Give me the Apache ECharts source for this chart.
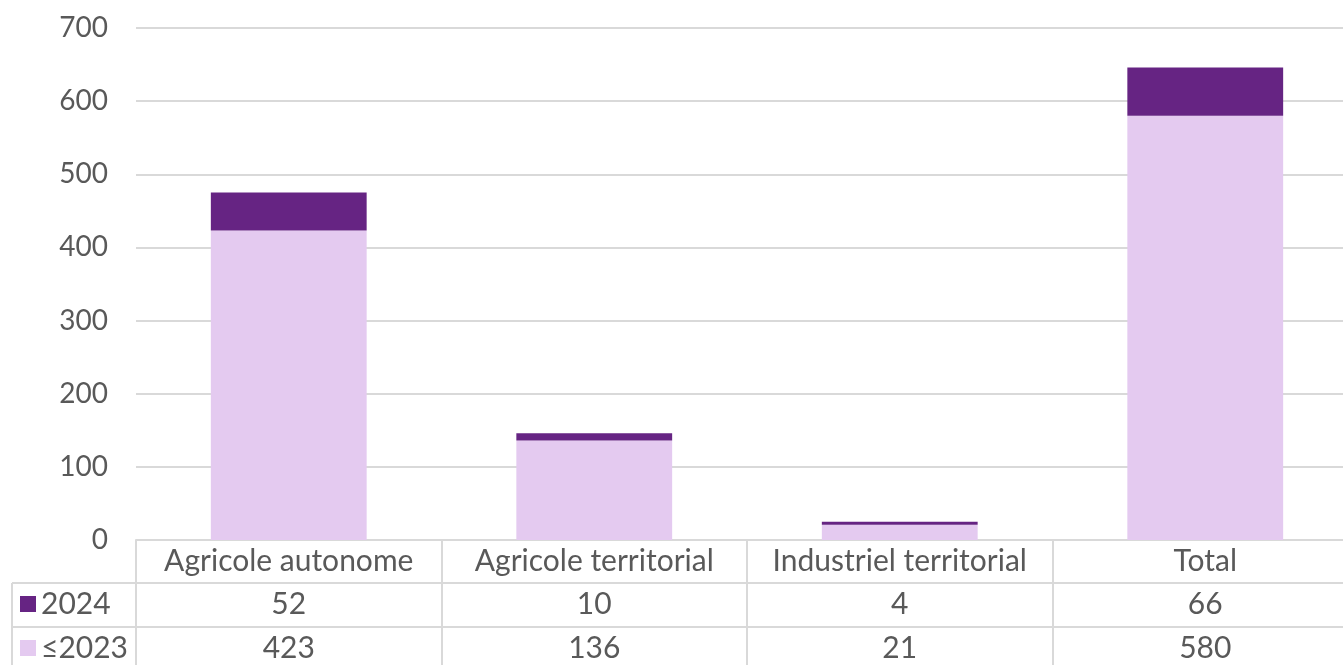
<!DOCTYPE html>
<html>
<head>
<meta charset="utf-8">
<script src="https://cdn.jsdelivr.net/npm/echarts@6/dist/echarts.min.js"></script>
<style>
  html, body { margin: 0; padding: 0; background: #fff; }
  #main { width: 1343px; height: 665px; }
</style>
</head>
<body>
<div id="main"></div>
<script>
// Data
var categories = ['Agricole autonome', 'Agricole territorial', 'Industriel territorial', 'Total'];
var values2024 = [52, 10, 4, 66];
var valuesUpTo2023 = [423, 136, 21, 580];
var yTicks = { min: 0, max: 700, interval: 100 };

var gridColor = '#d9d9d9';
var textColor = '#595959';
var font = 'Lato';
var fs = 30;

var myChart = echarts.init(document.getElementById('main'));

// one x axis per table row, stacked with offsets
function tableAxis(data, offset, tickLen) {
    return {
        type: 'category',
        data: data,
        position: 'bottom',
        offset: offset,
        axisLine: { show: true, lineStyle: { color: gridColor, width: 2 } },
        axisTick: { show: true, length: tickLen, interval: 0, lineStyle: { color: gridColor, width: 2 } },
        axisLabel: { interval: 0, margin: 6, fontSize: fs, color: textColor, fontFamily: font }
    };
}

var option = {
    animation: false,
    textStyle: { fontFamily: font },
    // plot runs a little past the right edge, as in the original
    grid: { left: 136, width: 1222, top: 28, bottom: 125, outerBoundsMode: 'none', containLabel: false },
    legend: {
        orient: 'vertical',
        left: 20,
        top: 589,
        height: 120,
        padding: 0,
        itemGap: 14,
        itemWidth: 16,
        itemHeight: 16,
        icon: 'rect',
        data: ['2024', '≤2023'],
        textStyle: { fontSize: fs, lineHeight: 30, color: textColor, fontFamily: font }
    },
    xAxis: [
        tableAxis(categories, 0, 43),
        tableAxis(values2024.map(String), 43, 44),
        tableAxis(valuesUpTo2023.map(String), 87, 40)
    ],
    yAxis: {
        type: 'value',
        min: yTicks.min,
        max: yTicks.max,
        interval: yTicks.interval,
        axisLine: { show: false },
        axisTick: { show: false },
        axisLabel: { margin: 28, fontSize: 28, color: textColor, fontFamily: font },
        splitLine: { lineStyle: { color: gridColor, width: 2 } }
    },
    graphic: [
        { type: 'line', shape: { x1: 12, y1: 583, x2: 136, y2: 583 }, style: { stroke: gridColor, lineWidth: 2 } },
        { type: 'line', shape: { x1: 12, y1: 627, x2: 136, y2: 627 }, style: { stroke: gridColor, lineWidth: 2 } },
        { type: 'line', shape: { x1: 12, y1: 583, x2: 12, y2: 665 }, style: { stroke: gridColor, lineWidth: 2 } }
    ],
    series: [
        {
            name: '≤2023',
            type: 'bar',
            stack: 'total',
            barWidth: '51%',
            itemStyle: { color: '#e4caf0' },
            data: valuesUpTo2023
        },
        {
            name: '2024',
            type: 'bar',
            stack: 'total',
            barWidth: '51%',
            itemStyle: { color: '#662483' },
            data: values2024
        }
    ]
};

myChart.setOption(option);
</script>
</body>
</html>
